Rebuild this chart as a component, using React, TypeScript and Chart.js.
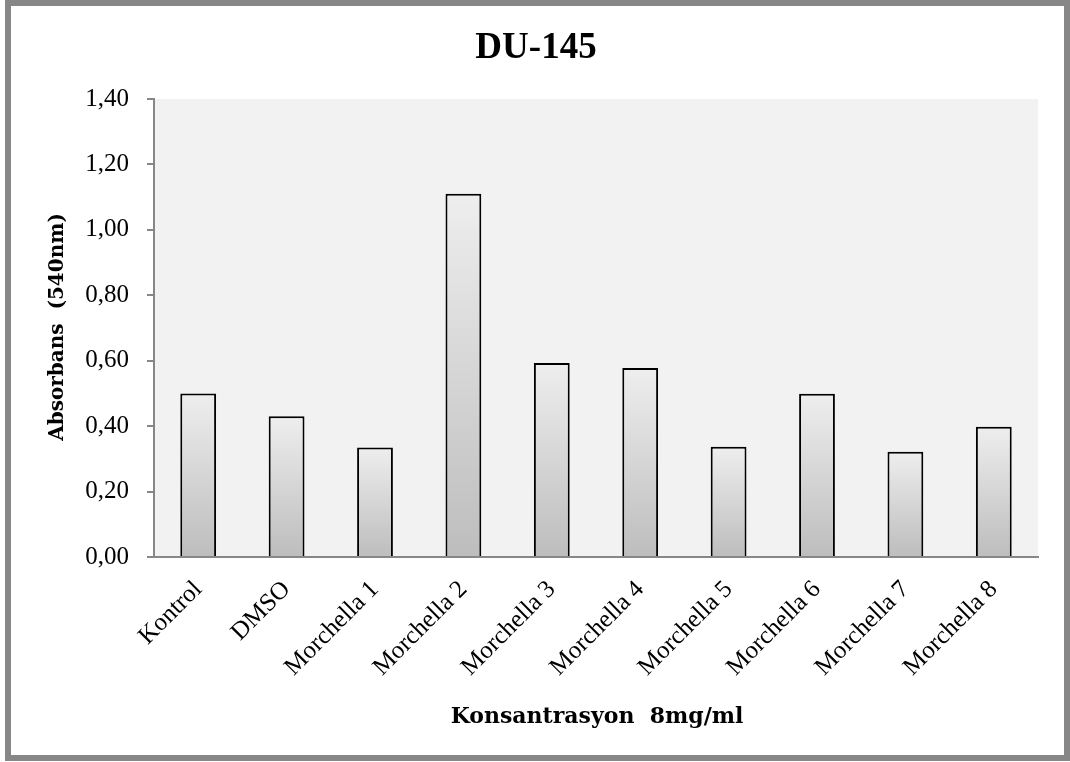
import React, { useEffect, useRef } from "react";
import { Chart, registerables } from "chart.js";

Chart.register(...registerables);

// Absorbance readings (540 nm) for each treatment at 8 mg/ml
const categories = [
  "Kontrol",
  "DMSO",
  "Morchella 1",
  "Morchella 2",
  "Morchella 3",
  "Morchella 4",
  "Morchella 5",
  "Morchella 6",
  "Morchella 7",
  "Morchella 8",
];
const absorbance = [0.5, 0.43, 0.335, 1.11, 0.593, 0.578, 0.337, 0.499, 0.322, 0.398];
const yTickValues = [0, 0.2, 0.4, 0.6, 0.8, 1.0, 1.2, 1.4];

const chartTitle = "DU-145";
const yAxisTitle = "Absorbans  (540nm)";
const xAxisTitle = "Konsantrasyon  8mg/ml";

const formatComma = (v: number) => v.toFixed(2).replace(".", ",");

const framePlugin = {
  id: "frameAndTitles",
  beforeDraw(chart: any) {
    const { ctx, chartArea, width, height } = chart;
    ctx.save();
    ctx.fillStyle = "#ffffff";
    ctx.fillRect(0, 0, width, height);
    ctx.fillStyle = "#f2f2f2";
    ctx.fillRect(chartArea.left, chartArea.top, chartArea.right - chartArea.left, chartArea.bottom - chartArea.top);
    ctx.strokeStyle = "#878787";
    ctx.lineWidth = 6;
    ctx.strokeRect(8, 3, 1059, 755);
    ctx.restore();
  },
  afterDraw(chart: any) {
    const { ctx, chartArea } = chart;
    ctx.save();
    ctx.fillStyle = "#000000";
    ctx.textAlign = "center";
    ctx.textBaseline = "alphabetic";
    ctx.font = "bold 37px 'Liberation Serif'";
    ctx.fillText(chartTitle, 536, 58);

    ctx.textBaseline = "middle";
    ctx.font = "bold 22px 'DejaVu Serif'";
    ctx.fillText(xAxisTitle, (chartArea.left + chartArea.right) / 2 + 1, 717);

    ctx.font = "bold 20px 'DejaVu Serif'";
    ctx.translate(58, 327);
    ctx.rotate(-Math.PI / 2);
    ctx.fillText(yAxisTitle, 0, 0);
    ctx.restore();
  },
};

export default function App() {
  const canvasRef = useRef<HTMLCanvasElement | null>(null);

  useEffect(() => {
    if (!canvasRef.current) return;
    const chart = new Chart(canvasRef.current, {
      type: "bar",
      data: {
        labels: categories,
        datasets: [
          {
            data: absorbance,
            backgroundColor: (context: any) => {
              const c = context.chart;
              const yScale = c.scales?.y;
              if (!yScale || context.raw == null) return "#d8d8d8";
              const top = yScale.getPixelForValue(context.raw);
              const base = yScale.getPixelForValue(0);
              if (!Number.isFinite(top) || !Number.isFinite(base) || top === base) return "#d8d8d8";
              const g = c.ctx.createLinearGradient(0, top, 0, base);
              g.addColorStop(0, "#eeeeee");
              g.addColorStop(1, "#bdbdbd");
              return g;
            },
            borderColor: "#000000",
            borderWidth: 2,
            barPercentage: 0.405,
            categoryPercentage: 1,
          },
        ],
      },
      options: {
        responsive: false,
        animation: false,
        layout: { padding: { left: 0, right: 32, top: 99, bottom: 0 } },
        plugins: {
          legend: { display: false },
          tooltip: { enabled: false },
          title: { display: false },
        },
        scales: {
          x: {
            grid: { display: false, drawTicks: false },
            border: { display: true, color: "#878787", width: 2 },
            ticks: {
              color: "#000000",
              font: { family: "'Liberation Serif'", size: 25 },
              minRotation: 45,
              maxRotation: 45,
              padding: 18,
              autoSkip: false,
            },
            afterFit: (scale: any) => {
              scale.height = 205;
            },
          },
          y: {
            min: 0,
            max: 1.4,
            afterBuildTicks: (axis: any) => {
              axis.ticks = yTickValues.map((v) => ({ value: v }));
            },
            grid: {
              drawOnChartArea: false,
              drawTicks: true,
              tickLength: 7,
              color: "#878787",
              lineWidth: 2,
            },
            border: { display: true, color: "#878787", width: 2 },
            ticks: {
              color: "#000000",
              font: { family: "'Liberation Serif'", size: 25 },
              padding: 18,
              callback: (value: any) => formatComma(Number(value)),
            },
            afterFit: (scale: any) => {
              scale.width = 154;
            },
          },
        },
      },
      plugins: [framePlugin],
    });
    return () => chart.destroy();
  }, []);

  return (
    <div style={{ position: "absolute", left: 0, top: 0, width: 1070, height: 762 }}>
      <canvas ref={canvasRef} width={1070} height={762} style={{ display: "block" }} />
    </div>
  );
}
